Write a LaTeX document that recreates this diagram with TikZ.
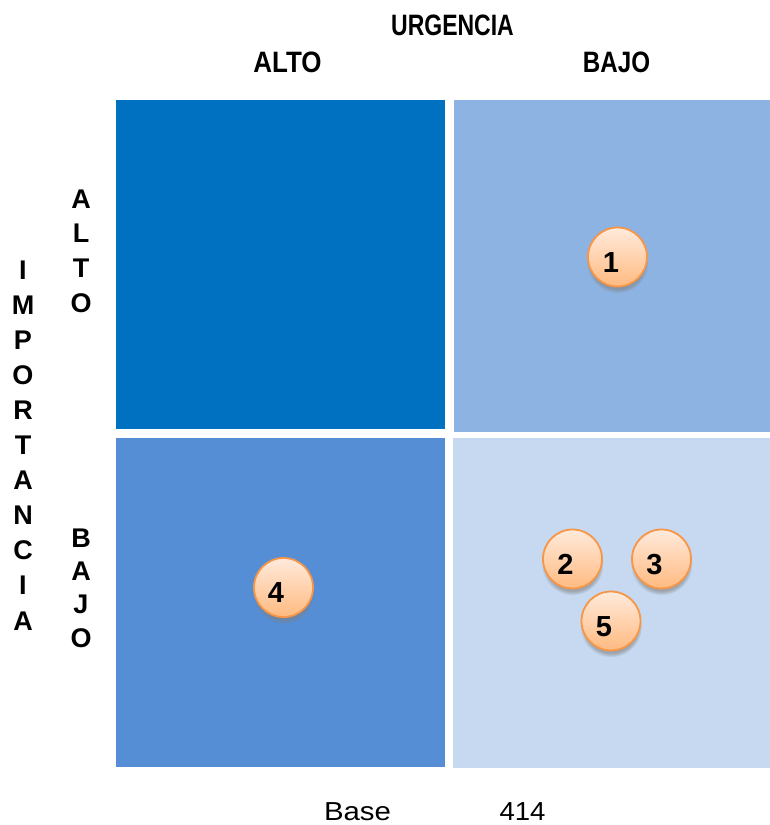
\documentclass[tikz,border=0pt]{standalone}
\usepackage{fontspec}
\setmainfont{Liberation Sans}
\usepackage{graphicx}
\usetikzlibrary{shadows}
\definecolor{qTL}{HTML}{0070C0}
\definecolor{qTR}{HTML}{8DB3E2}
\definecolor{qBL}{HTML}{558ED5}
\definecolor{qBR}{HTML}{C6D9F1}
\definecolor{bubEdge}{HTML}{F79646}
\definecolor{bubTop}{HTML}{FFEADC}
\definecolor{bubBot}{HTML}{FFBA80}
\begin{document}
\begin{tikzpicture}[x=1pt,y=-1pt,
  quad/.style={rectangle, draw=none, inner sep=0pt, anchor=north west},
  bubble/.style={circle, minimum size=59pt, inner sep=0pt, draw=bubEdge, line width=1.8pt,
    top color=bubTop, bottom color=bubBot,
    circular drop shadow={shadow xshift=0pt, shadow yshift=-5pt, shadow scale=1.05, opacity=0.6}},
  digit/.style={font=\fontsize{29}{29}\selectfont\bfseries, inner sep=0pt, anchor=center},
  head/.style={font=\fontsize{29.5}{29.5}\selectfont\bfseries, inner sep=0pt, anchor=base},
  vlet/.style={font=\fontsize{27}{27}\selectfont\bfseries, inner sep=0pt, anchor=base},
  foot/.style={font=\fontsize{26}{26}\selectfont, inner sep=0pt, anchor=base}]
\useasboundingbox (0,0) rectangle (770,825);
% quadrants
\node[quad, fill=qTL, minimum width=329pt, minimum height=329pt] (tl) at (116,100) {};
\node[quad, fill=qTR, minimum width=316pt, minimum height=332pt] (tr) at (454,100) {};
\node[quad, fill=qBL, minimum width=329pt, minimum height=329pt] (bl) at (116,438) {};
\node[quad, fill=qBR, minimum width=317pt, minimum height=330pt] (br) at (453,438) {};
% headers
\node[head] (urg) at (452.5,35) {\scalebox{0.78}[1]{URGENCIA}};
\node[head] (halto) at (287.5,72) {\scalebox{0.88}[1]{ALTO}};
\node[head] (hbajo) at (616.5,72) {\scalebox{0.82}[1]{BAJO}};
% IMPORTANCIA
\foreach \l [count=\i from 0] in {I,M,P,O,R,T,A,N,C,I,A}{
  \node[vlet] (imp\i) at (23,279+35.1*\i) {\l};
}
% side ALTO
\foreach \l [count=\i from 0] in {A,L,T,O}{
  \node[vlet] (sa\i) at (81,208+34.7*\i) {\l};
}
% side BAJO
\foreach \l [count=\i from 0] in {B,A,J,O}{
  \node[vlet] (sb\i) at (81,547+33.4*\i) {\l};
}
% bubbles
\node[bubble] (c1) at (617.5,257) {};
\node[digit] (d1) at (c1) [xshift=-6.5pt, yshift=-5.5pt] {1};
\node[bubble] (c2) at (572.5,559) {};
\node[digit] (d2) at (c2) [xshift=-7pt, yshift=-5.5pt] {2};
\node[bubble] (c3) at (661.5,559) {};
\node[digit] (d3) at (c3) [xshift=-7pt, yshift=-5.5pt] {3};
\node[bubble] (c5) at (611,621) {};
\node[digit] (d5) at (c5) [xshift=-7pt, yshift=-5.5pt] {5};
\node[bubble] (c4) at (283.5,587.5) {};
\node[digit] (d4) at (c4) [xshift=-7.5pt, yshift=-5.5pt] {4};
% footer
\node[foot] (base) at (357.5,820) {\scalebox{1.13}[1]{Base}};
\node[foot] (num) at (522.5,820) {\scalebox{1.06}[1]{414}};
\end{tikzpicture}
\end{document}
